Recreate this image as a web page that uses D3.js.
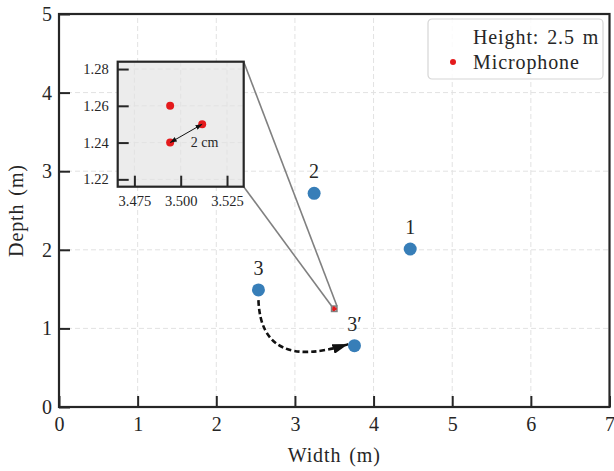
<!DOCTYPE html>
<meta charset="utf-8">
<style>
    body {
        margin: 0;
        background: #fff;
    }

    text {
        font-family: "Liberation Serif", serif;
        fill: #262626;
    }

    .wide {
        letter-spacing: 0.9px;
        word-spacing: 2px;
    }

    .frame {
        fill: none;
        stroke: #262626;
        stroke-width: 2.2px;
    }

    .grid line {
        stroke: #e2e2e2;
        stroke-width: 1px;
        stroke-dasharray: 5, 3;
    }

    .axis path {
        display: none;
    }

    .axis line {
        stroke: #262626;
        stroke-width: 2px;
    }
</style>
<body>
<script src="https://d3js.org/d3.v7.min.js"></script>
<script>
    // source positions (m)
    const sourceLabels = ["1", "2", "3", "3\u2032"];
    const sourceX = [4.466, 3.244, 2.536, 3.757];
    const sourceY = [2.01, 2.719, 1.489, 0.78];

    // microphone array, zoomed in the inset
    const micX = [3.4943, 3.4943, 3.5116];
    const micY = [1.26, 1.24, 1.25];

    // ticks
    const xTicks = [0, 1, 2, 3, 4, 5, 6, 7];
    const yTicks = [0, 1, 2, 3, 4, 5];
    const insetXTicks = [3.475, 3.5, 3.525];
    const insetYTicks = [1.22, 1.24, 1.26, 1.28];

    // moving source 3 -> 3': start, control, end of the curved arrow
    const moveX = [2.536, 2.57, 3.68];
    const moveY = [1.36, 0.445, 0.80];

    const legendLabels = ["Height: 2.5 m", "Microphone"];

    const width = 614, height = 471;

    let x = d3.scaleLinear().domain([0, 7]).range([59, 609.5]);
    let y = d3.scaleLinear().domain([0, 5]).range([407, 14]);

    // inset axes
    let ix = d3.scaleLinear().domain([3.466, 3.534]).range([117.7, 243.7]);
    let iy = d3.scaleLinear().domain([1.216, 1.284]).range([186.7, 61.7]);

    const blue = "#377eb8", red = "#e41a1c";

    let svg = d3.select("body")
        .append("svg")
        .attr("width", width)
        .attr("height", height);

    // markers
    const defs = svg.append("defs");
    defs.append("marker")
        .attr("id", "bigHead")
        .attr("markerUnits", "userSpaceOnUse")
        .attr("viewBox", "0 0 16 10")
        .attr("refX", 16).attr("refY", 5)
        .attr("markerWidth", 16).attr("markerHeight", 10)
        .attr("orient", "auto")
        .append("path").attr("d", "M0,0L16,5L0,10Z").attr("fill", "#111");
    defs.append("marker")
        .attr("id", "smallHead")
        .attr("markerUnits", "userSpaceOnUse")
        .attr("viewBox", "0 0 8 6")
        .attr("refX", 8).attr("refY", 3)
        .attr("markerWidth", 7).attr("markerHeight", 5)
        .attr("orient", "auto-start-reverse")
        .append("path").attr("d", "M0,0L8,3L0,6Z").attr("fill", "#111");

    // main grid
    const grid = svg.append("g").attr("class", "grid");
    grid.selectAll(".vx").data(xTicks.slice(1, -1)).enter().append("line")
        .attr("x1", d => x(d)).attr("x2", d => x(d))
        .attr("y1", y(0)).attr("y2", y(5));
    grid.selectAll(".hy").data(yTicks.slice(1, -1)).enter().append("line")
        .attr("x1", x(0)).attr("x2", x(7))
        .attr("y1", d => y(d)).attr("y2", d => y(d));

    // main axes, ticks pointing inward
    svg.append("g")
        .attr("class", "axis")
        .attr("transform", "translate(0," + y(0) + ")")
        .call(d3.axisBottom(x).tickValues(xTicks).tickSize(-11).tickPadding(10).tickFormat(d3.format("d")))
        .selectAll("text").style("font-size", "20px");

    svg.append("g")
        .attr("class", "axis")
        .attr("transform", "translate(" + x(0) + ",0)")
        .call(d3.axisLeft(y).tickValues(yTicks).tickSize(-11).tickPadding(7).tickFormat(d3.format("d")))
        .selectAll("text").style("font-size", "20px");

    svg.append("rect")
        .attr("class", "frame")
        .attr("x", x(0)).attr("y", y(5))
        .attr("width", x(7) - x(0)).attr("height", y(0) - y(5));

    svg.append("text")
        .attr("class", "wide")
        .attr("x", (x(0) + x(7)) / 2).attr("y", 462)
        .attr("text-anchor", "middle")
        .style("font-size", "20px")
        .text("Width (m)");

    svg.append("text")
        .attr("class", "wide")
        .attr("transform", "translate(23," + (y(0) + y(5)) / 2 + ") rotate(-90)")
        .attr("text-anchor", "middle")
        .style("font-size", "20px")
        .text("Depth (m)");

    // zoom box on the main axes + connector lines to the inset
    const [bx0, bx1] = ix.domain();
    const [by0, by1] = iy.domain();
    svg.append("line")
        .attr("x1", ix.range()[1]).attr("y1", iy.range()[1])
        .attr("x2", x(bx1)).attr("y2", y(by1))
        .attr("stroke", "#808080").attr("stroke-width", 1.6);
    svg.append("line")
        .attr("x1", ix.range()[1]).attr("y1", iy.range()[0])
        .attr("x2", x(bx0)).attr("y2", y(by1))
        .attr("stroke", "#808080").attr("stroke-width", 1.6);
    svg.append("rect")
        .attr("x", x(bx0)).attr("y", y(by1))
        .attr("width", x(bx1) - x(bx0)).attr("height", y(by0) - y(by1))
        .attr("fill", "#d8d8d8").attr("stroke", "#808080").attr("stroke-width", 1.6);

    svg.selectAll(".micMain").data(micX).enter().append("circle")
        .attr("cx", d => x(d)).attr("cy", (d, i) => y(micY[i]))
        .attr("r", 1.6).attr("fill", red);

    // curved movement arrow
    svg.append("path")
        .attr("d", "M" + x(moveX[0]) + "," + y(moveY[0]) +
            "Q" + x(moveX[1]) + "," + y(moveY[1]) + " " + x(moveX[2]) + "," + y(moveY[2]))
        .attr("fill", "none")
        .attr("stroke", "#111")
        .attr("stroke-width", 2.6)
        .attr("stroke-dasharray", "5.5,3")
        .attr("marker-end", "url(#bigHead)");

    // sources
    svg.selectAll(".src").data(sourceX).enter().append("circle")
        .attr("cx", d => x(d)).attr("cy", (d, i) => y(sourceY[i]))
        .attr("r", 6.5).attr("fill", blue);

    svg.selectAll(".srcLabel").data(sourceLabels).enter().append("text")
        .attr("x", (d, i) => x(sourceX[i]))
        .attr("y", (d, i) => y(sourceY[i]) - 15)
        .attr("text-anchor", "middle")
        .style("font-size", "20px")
        .text(d => d);

    // ---- inset ----
    const inset = svg.append("g");
    inset.append("rect")
        .attr("x", ix.range()[0]).attr("y", iy.range()[1])
        .attr("width", ix.range()[1] - ix.range()[0])
        .attr("height", iy.range()[0] - iy.range()[1])
        .attr("fill", "#ececec");

    const igrid = inset.append("g").attr("class", "grid");
    igrid.selectAll(".vx").data(insetXTicks).enter().append("line")
        .attr("x1", d => ix(d)).attr("x2", d => ix(d))
        .attr("y1", iy.range()[0]).attr("y2", iy.range()[1]);
    igrid.selectAll(".hy").data(insetYTicks).enter().append("line")
        .attr("x1", ix.range()[0]).attr("x2", ix.range()[1])
        .attr("y1", d => iy(d)).attr("y2", d => iy(d));

    inset.selectAll(".mic").data(micX).enter().append("circle")
        .attr("cx", d => ix(d)).attr("cy", (d, i) => iy(micY[i]))
        .attr("r", 4).attr("fill", red);

    // 2 cm spacing arrow
    inset.append("line")
        .attr("x1", ix(micX[1])).attr("y1", iy(micY[1]))
        .attr("x2", ix(micX[2])).attr("y2", iy(micY[2]))
        .attr("stroke", "#111").attr("stroke-width", 1)
        .attr("marker-start", "url(#smallHead)")
        .attr("marker-end", "url(#smallHead)");

    inset.append("text")
        .attr("x", ix(3.5129)).attr("y", iy(1.24))
        .attr("dy", "0.35em")
        .attr("text-anchor", "middle")
        .style("font-size", "14px")
        .text("2 cm");

    inset.append("g")
        .attr("class", "axis")
        .attr("transform", "translate(0," + iy.range()[0] + ")")
        .call(d3.axisBottom(ix).tickValues(insetXTicks).tickSize(-11).tickPadding(9).tickFormat(d3.format(".3f")))
        .selectAll("text").style("font-size", "14.5px");

    inset.append("g")
        .attr("class", "axis")
        .attr("transform", "translate(" + ix.range()[0] + ",0)")
        .call(d3.axisLeft(iy).tickValues(insetYTicks).tickSize(-11).tickPadding(9).tickFormat(d3.format(".2f")))
        .selectAll("text").style("font-size", "14.5px");

    inset.append("rect")
        .attr("class", "frame")
        .attr("x", ix.range()[0]).attr("y", iy.range()[1])
        .attr("width", ix.range()[1] - ix.range()[0])
        .attr("height", iy.range()[0] - iy.range()[1]);

    // ---- legend ----
    const legend = svg.append("g").attr("transform", "translate(428,19)");
    legend.append("rect")
        .attr("width", 175).attr("height", 60)
        .attr("rx", 4)
        .attr("fill", "#fff").attr("fill-opacity", 0.85)
        .attr("stroke", "#d6d6d6").attr("stroke-width", 1.2);

    legend.selectAll(".lt").data(legendLabels).enter().append("text")
        .attr("class", "wide")
        .attr("x", 45)
        .attr("y", (d, i) => 18 + i * 25)
        .attr("dy", "0.35em")
        .style("font-size", "20px")
        .text(d => d);

    legend.append("circle")
        .attr("cx", 25).attr("cy", 43).attr("r", 3)
        .attr("fill", red);
</script>
